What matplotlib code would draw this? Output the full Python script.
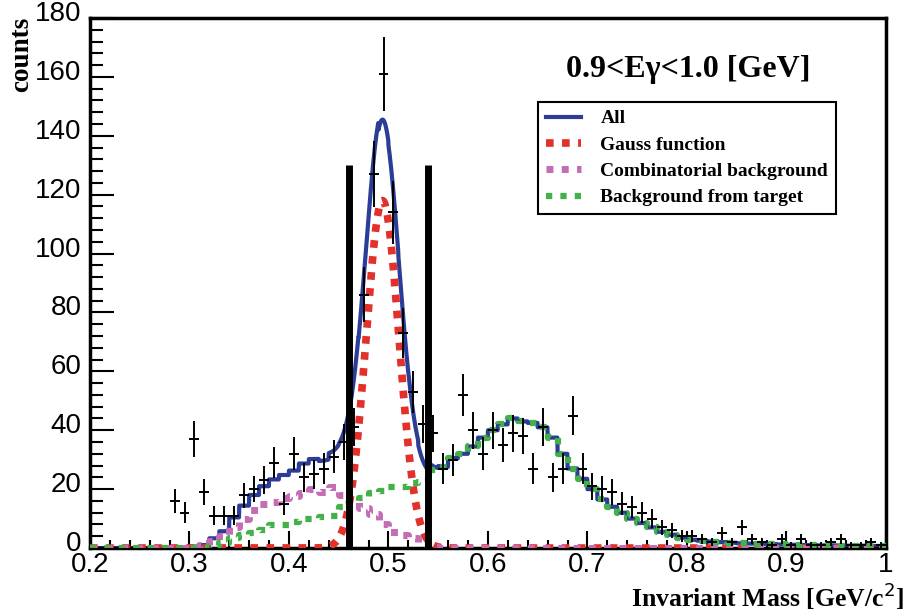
import numpy as np
import matplotlib.pyplot as plt
import matplotlib.transforms as mtransforms
from matplotlib.ticker import MultipleLocator

# histogram binning
bin_lo = 0.2
bin_w = 0.01
n_bins = 80

# measured counts per bin (bin centres 0.205 ... 0.995)
counts = [0, 0, 0, 0, 0, 0, 0, 0, 16, 12,
          37, 19, 11, 11, 11, 18, 20, 23, 29, 15,
          32, 24, 25, 27, 31, 36, 41, 86, 127, 161,
          114, 73, 53, 42, 39, 27, 30, 52, 40, 32,
          40, 35, 39, 38, 27, 41, 24, 27, 45, 27,
          21, 20, 19, 15, 14, 12, 10, 7, 6, 4,
          4, 3, 2, 5, 2, 7, 3, 2, 1, 3,
          1, 3, 1, 1, 2, 3, 1, 1, 2, 1]

# combinatorial background
comb_bg = [0, 0, 0, 0, 0, 0, 0, 0, 0, 0,
           0.5, 1, 2.5, 4, 7, 10, 13, 15, 15.5, 17,
           17.5, 18.7, 20.2, 19, 20.7, 18, 16, 13.6, 11.5, 8,
           5.5, 4.4, 3.4, 1.5, 0.3, 0, 0, 0, 0, 0,
           0, 0, 0, 0, 0, 0, 0, 0, 0, 0,
           0, 0, 0, 0, 0, 0, 0, 0, 0, 0,
           0, 0, 0, 0, 0, 0, 0, 0, 0, 0,
           0, 0, 0, 0, 0, 0, 0, 0, 0, 0]

# background from target
target_bg = [0, 0, 0, 0, 0, 0, 0, 0, 0, 0,
             0, 0, 0.8, 1.7, 3.4, 4.4, 5, 6, 7.8, 7.8,
             8.8, 10, 10, 10.5, 11, 14, 15.6, 17, 18.7, 19.5,
             20.7, 20.7, 22, 22.4, 26.5, 27.5, 30.5, 32, 34.5, 37.5,
             40, 42, 44, 43, 42.5, 41, 37.5, 32, 27, 23.5,
             20, 16.5, 14, 12, 10, 8.5, 7, 5.5, 4.5, 3.5,
             2.8, 2.5, 2.2, 2.0, 1.8, 1.6, 1.5, 1.4, 1.3, 1.2,
             1.1, 1.0, 1.0, 0.9, 0.9, 0.8, 0.8, 0.8, 0.7, 0.7]

# gauss fit
g_amp = 118.0
g_mean = 0.494
g_sigma = 0.0165

# mass window
cut_x = [0.46, 0.54]
cut_top = 130

labels = ['All', 'Gauss function', 'Combinatorial background', 'Background from target']

counts = np.array(counts, dtype=float)
comb_bg = np.array(comb_bg)
target_bg = np.array(target_bg)
edges = bin_lo + bin_w * np.arange(n_bins + 1)
centres = edges[:-1] + bin_w / 2

xs = np.linspace(0.2, 1.0, 3201)
idx = np.clip(((xs - bin_lo) / bin_w + 1e-9).astype(int), 0, n_bins - 1)
gauss = g_amp * np.exp(-0.5 * ((xs - g_mean) / g_sigma) ** 2)
total = gauss + comb_bg[idx] + target_bg[idx]

serif = 'Liberation Serif'
fig = plt.figure(figsize=(9.1, 6.13), dpi=100)
ax = fig.add_axes([0.0989, 0.106, 0.8747, 0.8646])

l_all, = ax.plot(xs, total, color='#2b3d96', lw=3, zorder=2)
l_g, = ax.plot(xs, gauss, color='#e2302b', lw=5.5, dashes=(1, 1.1), zorder=3)
l_c, = ax.step(edges, np.append(comb_bg, comb_bg[-1]), where='post',
               color='#c46cb4', lw=5, dashes=(1, 1.2), zorder=3)
l_t, = ax.step(edges, np.append(target_bg, target_bg[-1]), where='post',
               color='#44b04a', lw=4.5, dashes=(1, 1.3), zorder=4)

m = counts > 0
ax.errorbar(centres[m], counts[m], xerr=bin_w / 2, yerr=np.sqrt(counts[m]),
            fmt='none', ecolor='black', elinewidth=1.4, capsize=0, zorder=5)

ax.vlines(cut_x, 0, cut_top, color='black', lw=5, zorder=6)

ax.set_xlim(0.2, 1.0)
ax.set_ylim(0, 180)
ax.xaxis.set_major_locator(MultipleLocator(0.1))
ax.xaxis.set_minor_locator(MultipleLocator(0.02))
ax.yaxis.set_major_locator(MultipleLocator(20))
ax.yaxis.set_minor_locator(MultipleLocator(4))
ax.xaxis.set_major_formatter(lambda v, p: '1' if abs(v - 1) < 1e-6 else f'{v:.1f}')
ax.tick_params(axis='both', which='both', direction='in', top=False, right=False,
               labelsize=20, colors='black')
ax.tick_params(axis='y', which='major', length=17, width=1.5, pad=6)
ax.tick_params(axis='y', which='minor', length=9, width=1.5)
ax.tick_params(axis='x', which='major', length=12, width=1.5, pad=3)
ax.tick_params(axis='x', which='minor', length=6, width=1.5)
up = mtransforms.ScaledTranslation(0, 7 / 100, fig.dpi_scale_trans)
for lab in ax.get_yticklabels():
    lab.set_transform(lab.get_transform() + up)
for lab in ax.get_xticklabels() + ax.get_yticklabels():
    lab.set_fontfamily('Liberation Sans')
for s in ax.spines.values():
    s.set_linewidth(2.5)

ax.text(0.751, 0.902, '0.9<Eγ<1.0 [GeV]', transform=ax.transAxes, ha='center',
        va='center', fontsize=23, fontweight='bold', family=serif)

leg = ax.legend([l_all, l_g, l_c, l_t], labels, loc='upper left',
                bbox_to_anchor=(0.563, 0.8415), prop={'family': serif, 'weight': 'bold', 'size': 14},
                frameon=True, fancybox=False, edgecolor='black', framealpha=1,
                handlelength=1.8, handletextpad=1.0, borderpad=0.4, labelspacing=0.45,
                borderaxespad=0)
leg.get_frame().set_linewidth(1.5)

fig.text(0.024, 0.972, 'counts', rotation=90, ha='center', va='top',
         fontsize=19.5, fontweight='bold', family=serif)
fig.text(0.993, 0.002, 'Invariant Mass [GeV/c$^2$]', ha='right', va='bottom',
         fontsize=18.5, fontweight='bold', family=serif)

fig.savefig('out.png', dpi=100)
